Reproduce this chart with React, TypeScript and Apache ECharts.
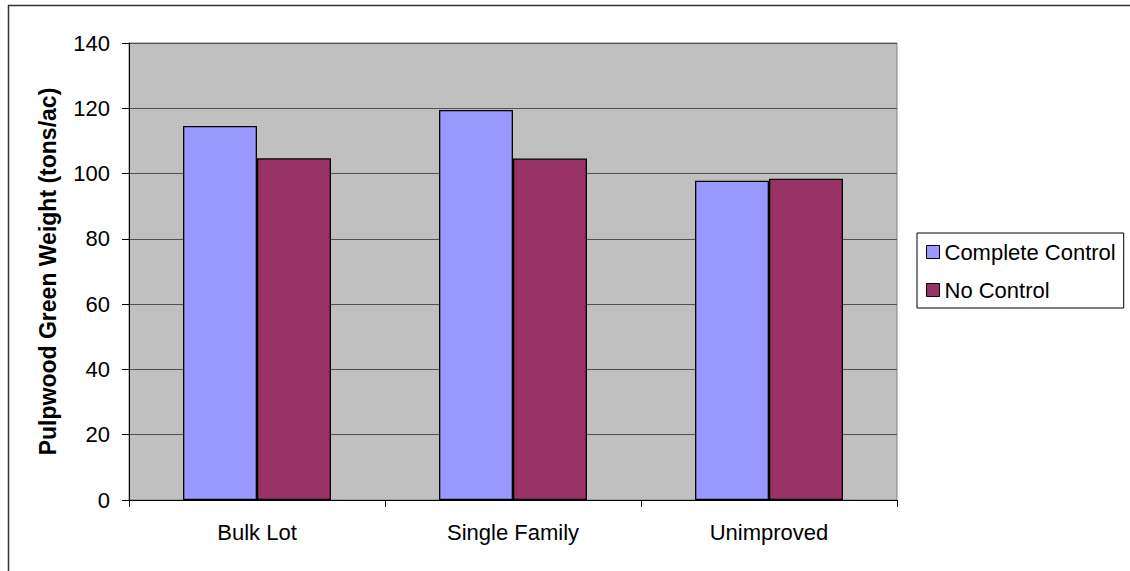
import React, { useEffect, useRef } from "react";
import * as echarts from "echarts";

const categories = ["Bulk Lot", "Single Family", "Unimproved"];
const completeControl = [114.6, 119.5, 97.8];
const noControl = [104.7, 104.6, 98.4];
const seriesNames = ["Complete Control", "No Control"];
const yAxisTitle = "Pulpwood Green Weight (tons/ac)";

export default function App() {
  const ref = useRef<HTMLDivElement>(null);
  useEffect(() => {
    const chart = echarts.init(ref.current!, null, { renderer: "svg" });
    const font = "Liberation Sans, Arial, sans-serif";
    chart.setOption({
      animation: false,
      textStyle: { fontFamily: font },
      graphic: [
        {
          type: "rect",
          shape: { x: 8.5, y: 5.5, width: 1200, height: 700 },
          style: { fill: "none", stroke: "#333", lineWidth: 1.5 },
          silent: true,
          z: 100,
        },
      ],
      grid: {
        left: 129,
        top: 43,
        right: 233,
        bottom: 71,
        show: true,
        backgroundColor: "#c0c0c0",
        borderColor: "#808080",
        borderWidth: 1,
      },
      legend: {
        orient: "vertical",
        left: 917,
        top: 233,
        data: seriesNames,
        borderColor: "#000",
        borderWidth: 1,
        padding: [8, 8, 7, 9],
        itemGap: 16,
        itemWidth: 13,
        itemHeight: 13,
        icon: "rect",
        textStyle: { fontSize: 22, color: "#000", fontFamily: font },
        itemStyle: { borderColor: "#000", borderWidth: 1 },
      },
      xAxis: {
        type: "category",
        data: categories,
        axisLine: { lineStyle: { color: "#000", width: 1 } },
        axisTick: { show: true, length: 7, lineStyle: { color: "#000" } },
        axisLabel: { fontSize: 22, color: "#000", margin: 21, fontFamily: font },
      },
      yAxis: {
        type: "value",
        min: 0,
        max: 140,
        interval: 20,
        name: yAxisTitle,
        nameLocation: "middle",
        nameGap: 70,
        nameTextStyle: { fontSize: 23, fontWeight: "bold", color: "#000", fontFamily: font },
        axisLine: { show: true, lineStyle: { color: "#000" } },
        axisTick: { show: true, length: 7, lineStyle: { color: "#000" } },
        axisLabel: { fontSize: 22, color: "#000", margin: 19, fontFamily: font },
        splitLine: { lineStyle: { color: "#505050", width: 1 } },
      },
      series: [
        {
          name: seriesNames[0],
          type: "bar",
          data: completeControl,
          barWidth: 74,
          barGap: "0%",
          itemStyle: { color: "#9999ff", borderColor: "#000", borderWidth: 1.3 },
        },
        {
          name: seriesNames[1],
          type: "bar",
          data: noControl,
          barWidth: 74,
          barGap: "0%",
          itemStyle: { color: "#993366", borderColor: "#000", borderWidth: 1.3 },
        },
      ],
    });
    return () => chart.dispose();
  }, []);
  return (
    <div
      ref={ref}
      style={{ position: "fixed", left: 0, top: 0, width: 1130, height: 571, background: "#fff" }}
    />
  );
}
